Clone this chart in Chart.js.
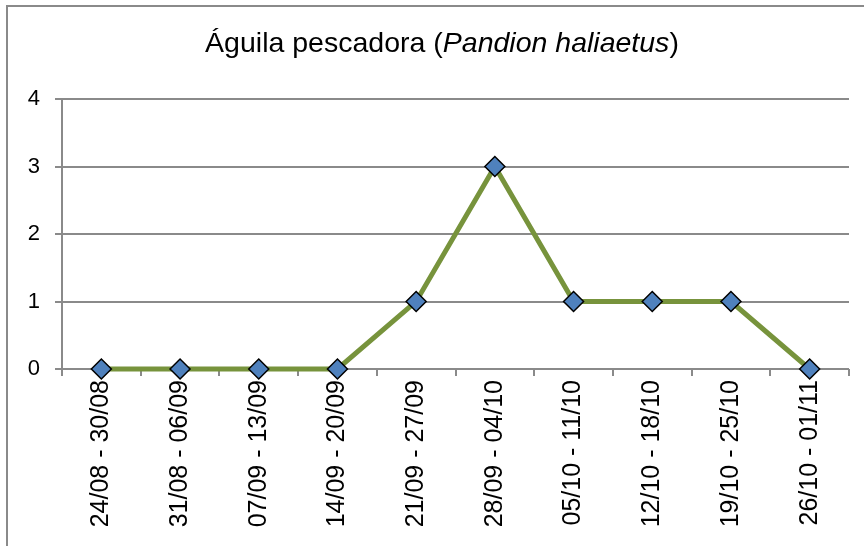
<!DOCTYPE html>
<html>
<head>
<meta charset="utf-8">
<script src="https://cdn.jsdelivr.net/npm/chart.js@4"></script>
<style>
  html, body { margin: 0; padding: 0; background: #fff; }
  #wrap { position: relative; width: 864px; height: 546px; overflow: hidden; }
  #frame {
    position: absolute; left: 6px; top: 5px; width: 1000px; height: 1000px;
    border-top: 2px solid #8a8a8a; border-left: 2px solid #8a8a8a;
  }
  #title {
    position: absolute; left: 0; width: 884px; top: 26px; text-align: center;
    font-family: "Liberation Sans", sans-serif;
    font-size: 28.5px; color: #000; white-space: nowrap;
  }
  canvas { position: absolute; left: 0; top: 0; }
</style>
</head>
<body>
<div id="wrap">
  <div id="frame"></div>
  <canvas id="chart" width="864" height="546"></canvas>
  <div id="title">Águila pescadora (<i>Pandion haliaetus</i>)</div>
</div>
<script>
// Weekly counts – Águila pescadora
const weeks = [
  '24/08 - 30/08', '31/08 - 06/09', '07/09 - 13/09', '14/09 - 20/09', '21/09 - 27/09',
  '28/09 - 04/10', '05/10 - 11/10', '12/10 - 18/10', '19/10 - 25/10', '26/10 - 01/11',
];
const counts = [0, 0, 0, 0, 1, 3, 1, 1, 1, 0];
const yTicks = [0, 1, 2, 3, 4];

const gridGray = '#8a8a8a';

const ctx = document.getElementById('chart').getContext('2d');
new Chart(ctx, {
  type: 'line',
  data: {
    labels: weeks,
    datasets: [{
      data: counts,
      borderColor: '#77933C',
      borderWidth: 5,
      tension: 0,
      pointStyle: 'rectRot',
      pointRadius: 10,
      pointHoverRadius: 10,
      pointBackgroundColor: '#4F81BD',
      pointBorderColor: '#000',
      pointBorderWidth: 1.5,
      clip: false,
    }],
  },
  options: {
    responsive: false,
    animation: false,
    layout: { padding: { left: 0, top: 99, right: 15, bottom: 0 } },
    plugins: { legend: { display: false }, title: { display: false }, tooltip: { enabled: false } },
    scales: {
      x: {
        offset: true,
        grid: { offset: true, drawOnChartArea: false, drawTicks: true, tickLength: 7, color: gridGray, lineWidth: 2 },
        border: { display: false },
        ticks: {
          autoSkip: false, maxRotation: 90, minRotation: 90, padding: 4,
          color: '#000', font: { family: 'Liberation Sans', size: 25 },
        },
        afterFit: (s) => { s.height = 177; },
      },
      y: {
        min: 0, max: 4,
        afterBuildTicks: (s) => { s.ticks = yTicks.map((v) => ({ value: v })); },
        grid: { color: gridGray, lineWidth: 2, tickLength: 7 },
        border: { color: gridGray, width: 2 },
        ticks: { padding: 15, color: '#000', font: { family: 'Liberation Sans', size: 22 } },
        afterFit: (s) => { s.width = 62; },
      },
    },
  },
});
</script>
</body>
</html>
